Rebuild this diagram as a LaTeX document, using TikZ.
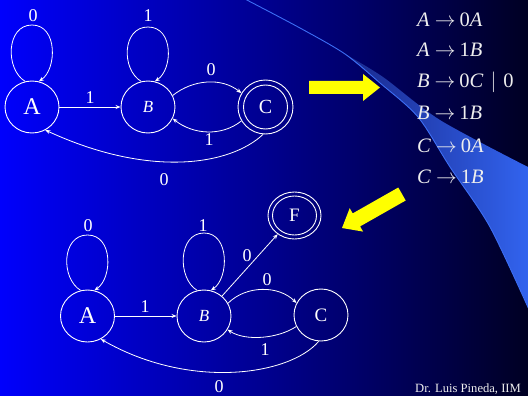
\documentclass[tikz,border=0pt]{standalone}
\usepackage{fontspec}
\setmainfont{Liberation Serif}
\usetikzlibrary{arrows.meta,shapes.geometric,calc}

\definecolor{bgleft}{RGB}{0,0,252}
\definecolor{bgmid}{RGB}{0,0,195}
\definecolor{bgright}{RGB}{0,0,35}
\definecolor{swdark}{RGB}{25,40,140}
\definecolor{swmid}{RGB}{45,90,220}
\definecolor{swbright}{RGB}{50,100,240}
\definecolor{swline}{RGB}{60,110,245}
\definecolor{arrowyellow}{RGB}{255,255,0}
\definecolor{textwhite}{RGB}{238,238,238}

\tikzset{
  state/.style={ellipse, draw=white, line width=0.9pt, minimum width=54pt,
    minimum height=52pt, inner sep=0pt, text=white},
  ring/.style={ellipse, draw=white, line width=0.9pt, inner sep=0pt},
  edge/.style={draw=white, line width=0.8pt, -{Stealth[length=5pt,width=4pt]}},
  lbl/.style={text=white, inner sep=0pt, font=\fontsize{18}{20}\selectfont},
  gram/.style={anchor=base west, text=textwhite, inner sep=0pt,
    font=\fontsize{20.5}{24}\selectfont},
}

\newcommand{\prodarrow}{\hspace{5pt}$\rightarrow$\hspace{4pt}}

\begin{document}
\begin{tikzpicture}[x=1pt,y=-1pt]
\useasboundingbox (0,0) rectangle (528,396);
\clip (0,0) rectangle (528,396);

% background gradient
\shade[left color=bgleft, middle color=bgmid, right color=bgright]
  (0,0) rectangle (528,396);

% light swoosh on the right
\shade[left color=swdark, middle color=swmid, right color=swbright]
  plot[smooth] coordinates {(345,54) (383,77) (440,120) (528,167)}
  -- (531,167) -- (531,312)
  -- plot[smooth] coordinates {(528,307) (490,227) (450,167) (418,117) (380,83) (345,54)}
  -- cycle;
\draw[swline, line width=0.9pt]
  plot[smooth] coordinates {(243,-2) (300,28) (345,54) (380,83) (418,117) (450,167) (490,227) (531,314)};

% yellow block arrows
\fill[arrowyellow] (309,81) -- (363,81) -- (363,74) -- (380,87.5)
  -- (363,101) -- (363,94) -- (309,94) -- cycle;
\fill[arrowyellow] (398.3,187.5) -- (352.7,213.4) -- (349.7,208.2) -- (342,228)
  -- (363.1,231.6) -- (360.1,226.4) -- (405.7,200.5) -- cycle;

% ---------- upper automaton ----------
\node[state, font=\fontsize{24}{24}\selectfont] (A1) at (32,107) {A};
\node[state, font=\fontsize{17}{17}\selectfont\itshape] (B1) at (148,107) {B};
\node[state, font=\fontsize{20}{20}\selectfont, minimum width=55pt, minimum height=54pt] (C1) at (265.5,107) {C};
\node[ring, minimum width=44pt, minimum height=44pt] (C1in) at (C1) {};

\coordinate (A1top) at ($(A1)+(0,-82)$);
\coordinate (B1top) at ($(B1)+(0,-80)$);
\draw[edge] (A1.105) .. controls +(-20,-12) and +(-26,0) .. (A1top)
  .. controls +(26,0) and +(18,-12) .. (A1.75);
\draw[edge] (B1.105) .. controls +(-20,-12) and +(-26,0) .. (B1top)
  .. controls +(26,0) and +(18,-12) .. (B1.75);
\draw[edge] (A1) -- (B1);
\draw[edge] (B1.25) .. controls +(20,-16) and +(-20,-16) .. (C1.150);
\draw[edge] (C1.210) .. controls +(-20,16) and +(20,16) .. (B1.335);
\draw[edge] (C1.265) .. controls +(-33,31) and +(104,48) .. (A1.300);

\node[lbl] (t0a) at (33,16) {0};
\node[lbl] (t1b) at (148,16) {1};
\node[lbl] (t1ab) at (90,98) {1};
\node[lbl] (t0bc) at (211,70) {0};
\node[lbl] (t1cb) at (209,140) {1};
\node[lbl] (t0ca) at (164,180) {0};

% ---------- lower automaton ----------
\node[state, font=\fontsize{24}{24}\selectfont] (A2) at (87.5,316) {A};
\node[state, font=\fontsize{17}{17}\selectfont\itshape] (B2) at (204,316) {B};
\node[state, font=\fontsize{19}{19}\selectfont] (C2) at (321,315) {C};
\node[state, font=\fontsize{19}{19}\selectfont, minimum width=53pt, minimum height=47pt] (F2) at (294.5,215.5) {F};
\node[ring, minimum width=44pt, minimum height=39pt] (F2in) at (F2) {};

\coordinate (A2top) at ($(A2)+(0,-81)$);
\coordinate (B2top) at ($(B2)+(0,-83)$);
\draw[edge] (A2.105) .. controls +(-20,-12) and +(-26,0) .. (A2top)
  .. controls +(26,0) and +(18,-12) .. (A2.75);
\draw[edge] (B2.105) .. controls +(-20,-12) and +(-26,0) .. (B2top)
  .. controls +(26,0) and +(18,-12) .. (B2.75);
\draw[edge] (A2) -- (B2);
\draw[edge] (B2) -- (F2);
\draw[edge] (B2.28) .. controls +(18,-18) and +(-18,-18) .. (C2.154);
\draw[edge] (C2.205) .. controls +(-18,12) and +(18,12) .. (B2.330);
\draw[edge] (C2.265) .. controls +(-29,34) and +(89,51) .. (A2.300);

\node[lbl] (b0a) at (88,226) {0};
\node[lbl] (b1b) at (203,226) {1};
\node[lbl] (b1ab) at (145,307) {1};
\node[lbl] (b0bf) at (247,256) {0};
\node[lbl] (b0bc) at (267,280) {0};
\node[lbl] (b1cb) at (265,350) {1};
\node[lbl] (b0ca) at (219,387) {0};

% ---------- right linear grammar ----------
\node[gram] (g1) at (417,27) {\textit{A}\prodarrow 0\textit{A}};
\node[gram] (g2) at (417,57) {\textit{A}\prodarrow 1\textit{B}};
\node[gram] (g3) at (417,88) {\textit{B}\prodarrow 0\textit{C}\hspace{7pt}$|$\hspace{7pt}0};
\node[gram] (g4) at (417,120) {\textit{B}\prodarrow 1\textit{B}};
\node[gram] (g5) at (417,152) {\textit{C}\prodarrow 0\textit{A}};
\node[gram] (g6) at (417,183) {\textit{C}\prodarrow 1\textit{B}};

\node[anchor=base west, text=textwhite, inner sep=0pt,
  font=\fontsize{12.6}{13}\selectfont] (credit) at (415,392) {Dr. Luis Pineda, IIM};
\end{tikzpicture}
\end{document}
